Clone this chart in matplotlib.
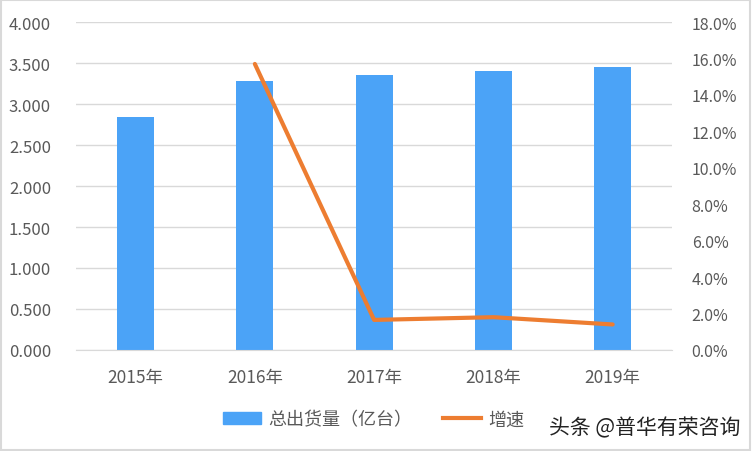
import matplotlib
matplotlib.use("Agg")
import matplotlib.pyplot as plt
from matplotlib.patches import Rectangle
from matplotlib.lines import Line2D
from matplotlib.ticker import FuncFormatter, MultipleLocator

plt.rcParams['font.family'] = ['Noto Sans CJK SC', 'DejaVu Sans']

years = ['2015年', '2016年', '2017年', '2018年', '2019年']
shipments = [2.84, 3.28, 3.35, 3.40, 3.45]
growth_years = ['2016年', '2017年', '2018年', '2019年']
growth = [15.7, 1.65, 1.8, 1.4]

bar_color = '#4BA3F7'
line_color = '#ED7D31'
text_color = '#595959'
grid_color = '#D9D9D9'

fig = plt.figure(figsize=(7.52, 4.52), dpi=100)
ax = fig.add_axes([0.101, 0.2235, 0.793, 0.7255])
x = list(range(len(years)))
ax.bar(x, shipments, width=0.31, color=bar_color, zorder=2)
ax.set_xlim(-0.5, len(years) - 0.5)
ax.set_ylim(0, 4.0)
ax.yaxis.set_major_locator(MultipleLocator(0.5))
ax.yaxis.set_major_formatter(FuncFormatter(lambda v, p: f'{v:.3f}'))
ax.set_xticks(x)
ax.set_xticklabels(years)
ax.grid(axis='y', color=grid_color, lw=1, zorder=0)
for s in ['top', 'left', 'right']:
    ax.spines[s].set_visible(False)
ax.spines['bottom'].set_color(grid_color)
ax.tick_params(axis='both', length=0, colors=text_color)
ax.tick_params(axis='y', pad=18, labelsize=12)
ax.tick_params(axis='x', pad=13, labelsize=12.5)

ax2 = ax.twinx()
gx = [years.index(y) for y in growth_years]
ax2.plot(gx, growth, color=line_color, lw=3, solid_capstyle='round', zorder=3)
ax2.set_ylim(0, 18)
ax2.yaxis.set_major_locator(MultipleLocator(2))
ax2.yaxis.set_major_formatter(FuncFormatter(lambda v, p: f'{v:.1f}%'))
for s in ['top', 'left', 'right', 'bottom']:
    ax2.spines[s].set_visible(False)
ax2.tick_params(axis='y', length=0, colors=text_color, labelsize=11.5, pad=14)

handles = [Rectangle((0, 0), 1, 1, color=bar_color),
           Line2D([0], [0], color=line_color, lw=3)]
fig.legend(handles, ['总出货量（亿台）', '增速'], loc='center', bbox_to_anchor=(0.497, 0.07),
           ncol=2, frameon=False, fontsize=13, labelcolor=text_color,
           handlelength=2.1, handleheight=0.7, columnspacing=1.7, handletextpad=0.4)

fig.text(0.984, 0.053, '头条 @普华有荣咨询', ha='right', va='center', fontsize=15,
         color='#222222', fontweight='medium')

fig.patches.append(Rectangle((0.001, 0.002), 0.997, 0.996, transform=fig.transFigure,
                             fill=False, edgecolor='#D9D9D9', lw=1.5))
fig.savefig('out.png', dpi=100)
